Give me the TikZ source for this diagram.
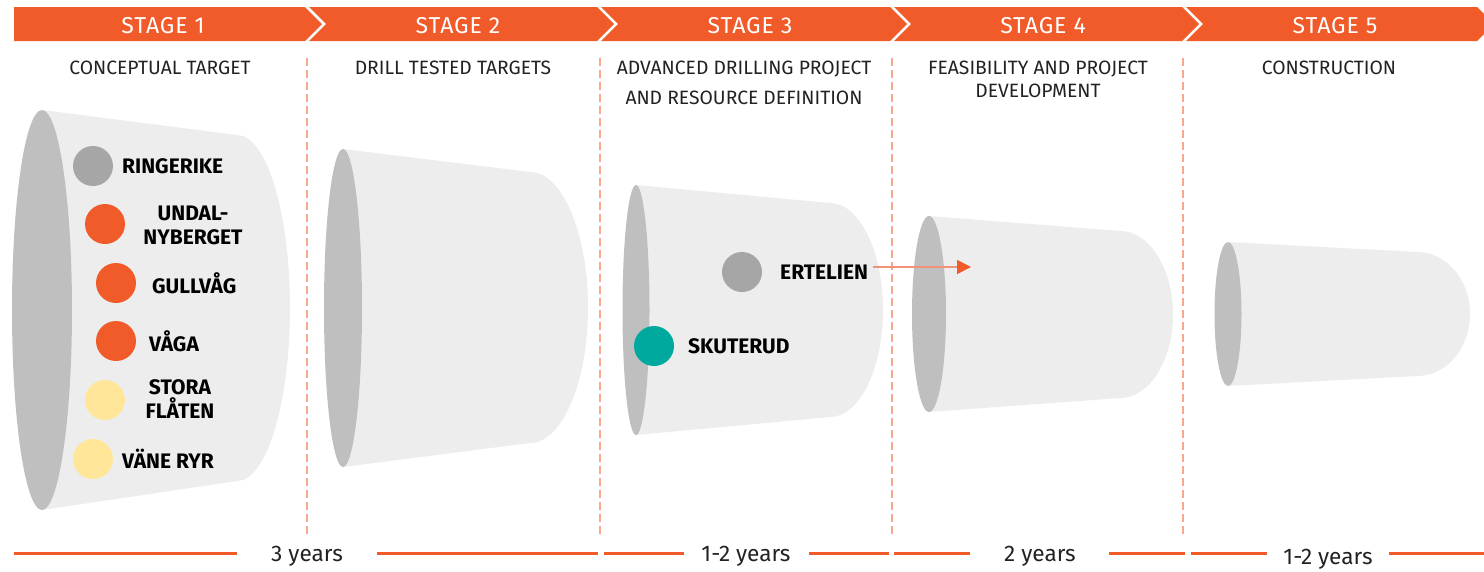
\documentclass[tikz,border=0pt]{standalone}
\usepackage{fontspec}
\setmainfont{Fira Sans}
\newfontfamily\stagefont[LetterSpace=4]{Fira Sans}
\usetikzlibrary{arrows.meta}
\definecolor{orng}{HTML}{F15A29}
\definecolor{salmon}{HTML}{F5A88E}
\definecolor{arrowln}{HTML}{F29378}
\definecolor{cupbody}{HTML}{EDEDED}
\definecolor{cupend}{HTML}{BFBFBF}
\definecolor{dotgray}{HTML}{A6A6A6}
\definecolor{dotyel}{HTML}{FFE699}
\definecolor{dotteal}{HTML}{00A99D}
\definecolor{txt}{HTML}{222222}
\newcommand{\drawcup}[8]{%
  \pgfmathsetmacro\cupmid{(#6+#7)/2}%
  \pgfmathsetmacro\cupb{(#7-#6)/2}%
  \pgfmathsetmacro\cupka{0.5523*#8}%
  \pgfmathsetmacro\cupkb{0.5523*\cupb}%
  \fill[cupbody] (#1,#2-#4) -- (#5,#6) .. controls (#5+\cupka,#6) and (#5+#8,\cupmid-\cupkb) .. (#5+#8,\cupmid) .. controls (#5+#8,\cupmid+\cupkb) and (#5+\cupka,#7) .. (#5,#7) -- (#1,#2+#4) -- cycle;
  \fill[cupend] (#1,#2) ellipse [x radius=#3pt, y radius=#4pt];
}
\tikzset{
  stagetxt/.style={text=white, font=\stagefont\fontsize{23}{26}\selectfont, inner sep=0pt},
  subhead/.style={text=txt, align=center, inner sep=0pt},
  divider/.style={salmon, line width=1.2pt, dash pattern=on 8pt off 4pt},
  dot/.style={circle, minimum size=40pt, inner sep=0pt},
  lab/.style={text=black, font=\fontsize{21}{24}\selectfont\bfseries, inner sep=0pt},
  yrs/.style={text=txt, font=\fontsize{22.6}{26}\selectfont, inner sep=0pt},
  bline/.style={orng, line width=3pt},
}
\begin{document}
\begin{tikzpicture}[x=1pt, y=-1pt]
\path[use as bounding box, clip] (0,0) rectangle (1484,571);
\fill[white] (0,0) rectangle (1484,571);
% header
\fill[orng] (14,7) -- (305,7) -- (322,24) -- (305,41) -- (14,41) -- cycle;
\fill[orng] (309,7) -- (597,7) -- (614,24) -- (597,41) -- (309,41) -- (326,24) -- cycle;
\fill[orng] (601,7) -- (890,7) -- (907,24) -- (890,41) -- (601,41) -- (618,24) -- cycle;
\fill[orng] (894,7) -- (1182,7) -- (1199,24) -- (1182,41) -- (894,41) -- (911,24) -- cycle;
\fill[orng] (1186,7) -- (1477,7) -- (1494,24) -- (1477,41) -- (1186,41) -- (1203,24) -- cycle;
\node[stagetxt] (st1) at (163,25.5) {STAGE 1};
\node[stagetxt] (st2) at (458,25.5) {STAGE 2};
\node[stagetxt] (st3) at (750,25.5) {STAGE 3};
\node[stagetxt] (st4) at (1043,25.5) {STAGE 4};
\node[stagetxt] (st5) at (1335,25.5) {STAGE 5};
% subheadings
\node[subhead, font=\fontsize{19.3}{30}\selectfont] (h1) at (160,68) {CONCEPTUAL TARGET};
\node[subhead, font=\fontsize{19.3}{30}\selectfont] (h2) at (453,68) {DRILL TESTED TARGETS};
\node[subhead, font=\fontsize{19.3}{30}\selectfont] (h3) at (744,83) {ADVANCED DRILLING PROJECT\\AND RESOURCE DEFINITION};
\node[subhead, font=\fontsize{19.3}{23}\selectfont] (h4) at (1038,79.5) {FEASIBILITY AND PROJECT\\DEVELOPMENT};
\node[subhead, font=\fontsize{19.3}{30}\selectfont] (h5) at (1329,68) {CONSTRUCTION};
% dividers
\draw[divider] (307,58) -- (307,537);
\draw[divider] (600,58) -- (600,537);
\draw[divider] (892,58) -- (892,537);
\draw[divider] (1183,58) -- (1183,537);
% cups
\drawcup{42}{310}{30}{200}{237}{135}{481}{53}
\drawcup{343}{308}{19}{159}{530}{172}{443}{58}
\drawcup{636}{310}{13.5}{125}{830}{203}{417}{53}
\drawcup{929}{314}{17}{98}{1120}{231}{398}{53}
\drawcup{1228}{314}{13.5}{72}{1417}{252}{376}{53}
% stage 1 targets
\node[dot, fill=dotgray] (dRing) at (93,166) {};
\node[lab, anchor=west] (lRing) at (122,166) {RINGERIKE};
\node[dot, fill=orng] (dUnd) at (105,224) {};
\node[lab, align=center] (lUnd) at (193,225) {UNDAL-\\NYBERGET};
\node[dot, fill=orng] (dGul) at (116,283) {};
\node[lab, anchor=west] (lGul) at (152,283) {GULLVÅG};
\node[dot, fill=orng] (dVag) at (116,341) {};
\node[lab, anchor=west] (lVag) at (149,341) {VÅGA};
\node[dot, fill=dotyel] (dSto) at (105,400) {};
\node[lab, align=center] (lSto) at (180,399) {STORA\\FLÅTEN};
\node[dot, fill=dotyel] (dVan) at (93,459) {};
\node[lab, anchor=west] (lVan) at (122,459) {VÄNE RYR};
% stage 3 targets
\node[dot, fill=dotgray] (dErt) at (742,272) {};
\node[lab, anchor=west] (lErt) at (780,272) {ERTELIEN};
\node[dot, fill=dotteal] (dSku) at (654,346) {};
\node[lab, anchor=west] (lSku) at (688,346) {SKUTERUD};
\coordinate (arrEnd) at (971,267);
\draw[arrowln, line width=1.6pt, -{Triangle[length=14pt, width=14pt, color=orng]}] (lErt.east |- arrEnd) ++(5,0) -- (arrEnd);
% bottom timeline
\node[yrs] (y1) at (307,556) {3 years};
\node[yrs] (y2) at (746,556) {1-2 years};
\node[yrs] (y3) at (1040,556) {2 years};
\node[yrs] (y4) at (1328,559) {1-2 years};
\draw[bline] (14,553) -- (237,553);
\draw[bline] (377,553) -- (598,553);
\draw[bline] (604,553) -- (684,553);
\draw[bline] (809,553) -- (889,553);
\draw[bline] (894,553) -- (970,553);
\draw[bline] (1109,553) -- (1185,553);
\draw[bline] (1191,553) -- (1267,553);
\draw[bline] (1389,553) -- (1484,553);
\end{tikzpicture}
\end{document}
